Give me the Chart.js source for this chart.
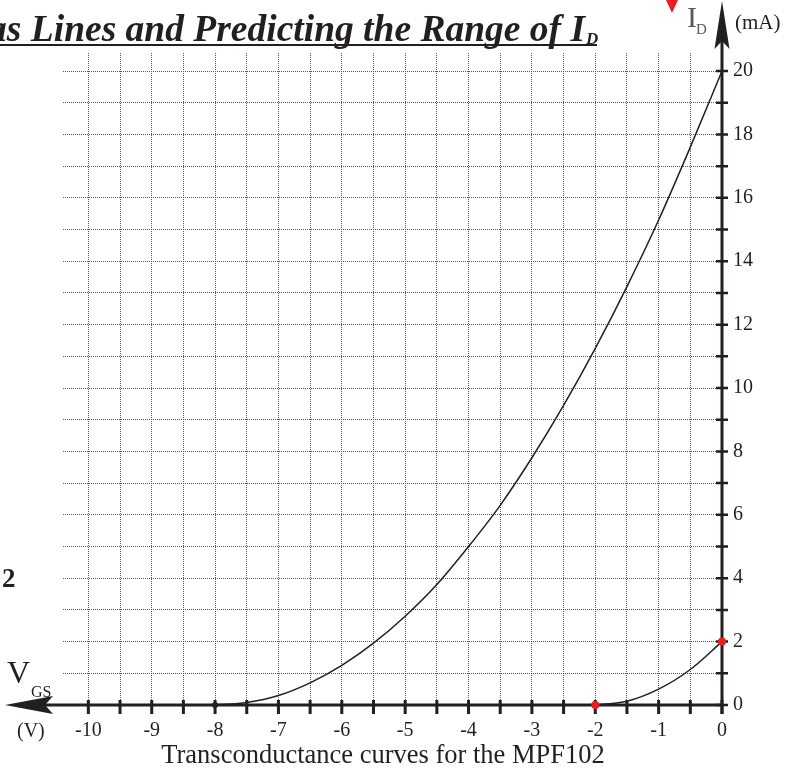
<!DOCTYPE html>
<html>
<head>
<meta charset="utf-8">
<script src="https://cdn.jsdelivr.net/npm/chart.js@4"></script>
<style>
  html, body { margin: 0; padding: 0; background: #fff; }
  canvas { display: block; }
</style>
</head>
<body>
<canvas id="chartcanvas" width="790" height="772"></canvas>
<script>
// transfer curve (VGS in volts, ID in mA)
const vgsWide = [-8, -7.5, -7, -6.5, -6, -5.5, -5, -4.5, -4, -3.5, -3, -2.5, -2, -1.5, -1, -0.5, 0];
const idWide = [0, 0.08, 0.3, 0.7, 1.25, 1.95, 2.8, 3.8, 5.0, 6.3, 7.8, 9.45, 11.25, 13.2, 15.3, 17.6, 20];
const vgsNarrow = [-2, -1.5, -1, -0.5, 0];
const idNarrow = [0, 0.12, 0.5, 1.12, 2];

const xTickLabels = ["-10", "-9", "-8", "-7", "-6", "-5", "-4", "-3", "-2", "-1", "0"];
const yTickLabels = ["0", "2", "4", "6", "8", "10", "12", "14", "16", "18", "20"];

const ink = "#231f20";
const red = "#ed1c24";
const serif = "'Liberation Serif', 'Times New Roman', serif";

const ctx = document.getElementById("chartcanvas");

const decor = {
  id: "decor",
  beforeDatasetsDraw(chart) {
    const c = chart.ctx;
    const { x, y } = chart.scales;
    const x0 = x.getPixelForValue(0);
    const y0 = y.getPixelForValue(0);
    c.save();
    c.strokeStyle = ink;
    c.fillStyle = ink;

    // axis lines
    c.lineWidth = 3;
    c.beginPath();
    c.moveTo(30, y0);
    c.lineTo(x0 + 1.5, y0);
    c.moveTo(x0, 30);
    c.lineTo(x0, y0 + 9);
    c.stroke();

    // ticks crossing the axes
    c.lineWidth = 3;
    c.beginPath();
    x.ticks.forEach((t, i) => {
      const px = x.getPixelForTick(i);
      c.moveTo(px, y0 - 5);
      c.lineTo(px, y0 + 9);
    });
    c.stroke();
    c.lineWidth = 2.5;
    c.beginPath();
    y.ticks.forEach((t, i) => {
      const py = y.getPixelForTick(i);
      c.moveTo(x0 - 6, py);
      c.lineTo(x0 + 6, py);
    });
    c.stroke();

    // arrow heads
    c.beginPath();
    c.moveTo(x0, 1);
    c.lineTo(x0 + 7.5, 49);
    c.lineTo(x0, 41);
    c.lineTo(x0 - 7.5, 49);
    c.closePath();
    c.fill();
    c.beginPath();
    c.moveTo(5, y0);
    c.lineTo(53, y0 - 9);
    c.lineTo(45, y0);
    c.lineTo(53, y0 + 9);
    c.closePath();
    c.fill();
    c.restore();
  },
  afterDraw(chart) {
    const c = chart.ctx;
    c.save();
    c.textBaseline = "alphabetic";

    // heading, cut off at the left edge
    c.fillStyle = ink;
    c.font = "italic bold 37.5px " + serif;
    c.textAlign = "right";
    c.fillText("Bias Lines and Predicting the Range of I", 585, 41);
    c.textAlign = "left";
    c.font = "italic bold 17px " + serif;
    c.fillText("D", 586, 44);
    c.fillRect(0, 44, 597, 2);

    // red marker at top
    c.fillStyle = red;
    c.beginPath();
    c.moveTo(666, 0);
    c.lineTo(678, 0);
    c.lineTo(672, 13);
    c.closePath();
    c.fill();

    // axis names
    c.fillStyle = "#58595b";
    c.font = "30px " + serif;
    c.fillText("I", 687, 27);
    c.font = "15px " + serif;
    c.fillText("D", 696, 34);
    c.fillStyle = ink;
    c.font = "21px " + serif;
    c.fillText("(mA)", 735, 29);

    c.font = "32px " + serif;
    c.fillText("V", 7, 683);
    c.font = "16px " + serif;
    c.fillText("GS", 31, 697);
    c.font = "20px " + serif;
    c.fillText("(V)", 17, 737);

    c.textAlign = "center";
    c.font = "26.5px " + serif;
    c.fillText("Transconductance curves for the MPF102", 383, 763);

    c.textAlign = "left";
    c.font = "bold 27px " + serif;
    c.fillText("2", 2, 587);
    c.restore();
  },
};

const gridStyle = { color: "#5a5a5a", lineWidth: 1, drawTicks: false };
const borderStyle = { display: false, dash: [1, 1] };

const config = {
  type: "line",
  data: {
    datasets: [
      {
        label: "MPF102 high",
        data: vgsWide.map((v, i) => ({ x: v, y: idWide[i] })),
        borderColor: ink,
        borderWidth: 1.5,
        cubicInterpolationMode: "monotone",
        pointRadius: vgsWide.map((v, i) => (i === 0 ? 3 : 0)),
        pointBackgroundColor: ink,
        pointBorderWidth: 0,
        clip: false,
      },
      {
        label: "MPF102 low",
        data: vgsNarrow.map((v, i) => ({ x: v, y: idNarrow[i] })),
        borderColor: ink,
        borderWidth: 1.5,
        cubicInterpolationMode: "monotone",
        pointRadius: vgsNarrow.map((v, i) => (i === 0 || i === vgsNarrow.length - 1 ? 4 : 0)),
        pointBackgroundColor: red,
        pointBorderWidth: 0,
        clip: false,
      },
    ],
  },
  options: {
    responsive: false,
    animation: false,
    events: [],
    layout: { padding: { left: 63, top: 53, right: 0, bottom: 0 } },
    plugins: { legend: { display: false }, tooltip: { enabled: false } },
    scales: {
      x: {
        type: "linear",
        position: "bottom",
        min: -10.4,
        max: 0,
        afterFit: (scale) => { scale.height = 67; },
        border: borderStyle,
        grid: gridStyle,
        ticks: {
          stepSize: 0.5,
          includeBounds: false,
          autoSkip: false,
          maxRotation: 0,
          padding: 14,
          color: ink,
          font: { family: serif, size: 20 },
          callback: (value) => (xTickLabels.includes(String(value)) ? String(value) : ""),
        },
      },
      y: {
        type: "linear",
        position: "right",
        min: 0,
        max: 20.57,
        afterFit: (scale) => { scale.width = 68; },
        border: borderStyle,
        grid: gridStyle,
        ticks: {
          stepSize: 1,
          includeBounds: false,
          autoSkip: false,
          padding: 11,
          color: ink,
          font: { family: serif, size: 20 },
          callback: (value) => (yTickLabels.includes(String(value)) ? String(value) : ""),
        },
      },
    },
  },
  plugins: [decor],
};

const chart = new Chart(ctx, config);
</script>
</body>
</html>
